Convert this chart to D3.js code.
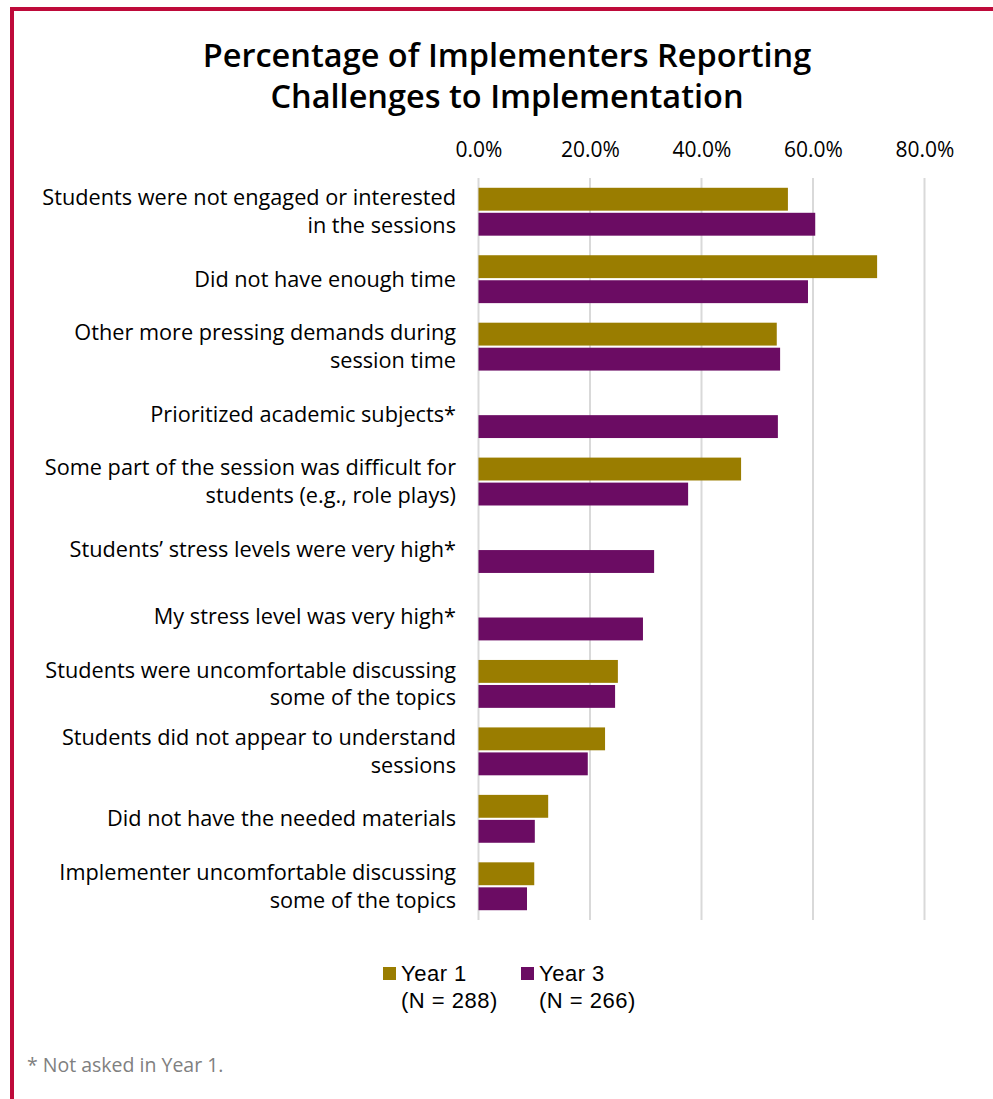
<!DOCTYPE html>
<html><head><meta charset="utf-8">
<script src="https://cdn.jsdelivr.net/npm/d3@7"></script>
<style>
html,body{margin:0;padding:0;background:#fff;}
svg{display:block;font-family:"Open Sans","Liberation Sans",Arial,sans-serif;}
</style></head>
<body>
<svg id="chart" width="993" height="1099"></svg>
<script>
const categories = [
  ["Students were not engaged or interested", "in the sessions"],
  ["Did not have enough time"],
  ["Other more pressing demands during", "session time"],
  ["Prioritized academic subjects*"],
  ["Some part of the session was difficult for", "students (e.g., role plays)"],
  ["Students\u2019 stress levels were very high*"],
  ["My stress level was very high*"],
  ["Students were uncomfortable discussing", "some of the topics"],
  ["Students did not appear to understand", "sessions"],
  ["Did not have the needed materials"],
  ["Implementer uncomfortable discussing", "some of the topics"]
];
const year1 = [55.5, 71.5, 53.5, null, 47.1, null, null, 25.0, 22.7, 12.5, 10.0];
const year3 = [60.4, 59.1, 54.1, 53.7, 37.6, 31.5, 29.5, 24.5, 19.6, 10.1, 8.7];
const tickValues = [0, 20, 40, 60, 80];
const seriesNames = ["Year 1", "Year 3"];
const seriesNotes = ["(N = 288)", "(N = 266)"];
const colors = ["#9A7D00", "#6B0C63"];
const titleLines = ["Percentage of Implementers Reporting", "Challenges to Implementation"];
const footnote = "* Not asked in Year 1.";

const svg = d3.select("#chart");
// border
svg.append("line").attr("x1",10).attr("x2",993).attr("y1",9).attr("y2",9)
  .attr("stroke","#BE0A3A").attr("stroke-width",4);
svg.append("line").attr("x1",12).attr("x2",12).attr("y1",7).attr("y2",1099)
  .attr("stroke","#BE0A3A").attr("stroke-width",4);

// title
svg.append("text").attr("x",507).attr("y",66.5).attr("text-anchor","middle")
  .attr("font-size",32.5).attr("font-weight",600).attr("fill","#000")
  .selectAll("tspan").data(titleLines).join("tspan")
  .attr("x",507).attr("dy",(d,i)=>i===0?0:41.5).text(d=>d);

const x = d3.scaleLinear().domain([0,80]).range([478.5,924.5]);
const y = d3.scaleBand().domain(d3.range(categories.length)).range([178,920]).paddingInner(0.29).paddingOuter(0.145);
const sub = d3.scaleBand().domain([0,1]).range([0,y.bandwidth()]).paddingInner(0.085);

// grid
svg.append("g").selectAll("line").data(tickValues).join("line")
  .attr("x1",d=>x(d)).attr("x2",d=>x(d)).attr("y1",178).attr("y2",920)
  .attr("stroke","#d9d9d9").attr("stroke-width",2);

// axis labels on top
const axis = d3.axisTop(x).tickValues(tickValues).tickSize(0).tickPadding(0)
  .tickFormat(d=>d.toFixed(1)+"%");
const ag = svg.append("g").attr("transform","translate(0,157)").call(axis);
ag.select(".domain").remove();
ag.selectAll("text").attr("font-size",21).attr("fill","#000")
  .attr("font-family","\"Open Sans\",\"Liberation Sans\",Arial,sans-serif").attr("dy",0);

// bars
const series = [year1, year3];
series.forEach((vals,si)=>{
  svg.append("g").selectAll("rect").data(vals.map((v,i)=>({v,i})).filter(d=>d.v!=null)).join("rect")
    .attr("x",x(0)).attr("y",d=>y(d.i)+sub(si))
    .attr("width",d=>x(d.v)-x(0)).attr("height",sub.bandwidth())
    .attr("fill",colors[si]);
});

// category labels
const lg = svg.append("g");
categories.forEach((lines,i)=>{
  const cy = y(i)+y.bandwidth()/2;
  const lh = 27.5;
  const t = lg.append("text").attr("text-anchor","end").attr("font-size",21.7).attr("fill","#000");
  lines.forEach((l,k)=>{
    t.append("tspan").attr("x",456).attr("y",cy + (k-(lines.length-1)/2)*lh + 7.5).text(l);
  });
});

// legend
const legX = [383, 521];
seriesNames.forEach((n,i)=>{
  const g = svg.append("g").attr("font-family","\"Liberation Sans\",Arial,sans-serif")
    .attr("font-size",22).attr("letter-spacing",0.5).attr("fill","#000");
  g.append("rect").attr("x",legX[i]).attr("y",967).attr("width",13).attr("height",13).attr("fill",colors[i]);
  g.append("text").attr("x",legX[i]+18).attr("y",981).text(n);
  g.append("text").attr("x",legX[i]+18).attr("y",1007.5).text(seriesNotes[i]);
});

// footnote
svg.append("text").attr("x",27).attr("y",1072).attr("font-size",19.5).attr("fill","#808080").text(footnote);
</script>
</body></html>
